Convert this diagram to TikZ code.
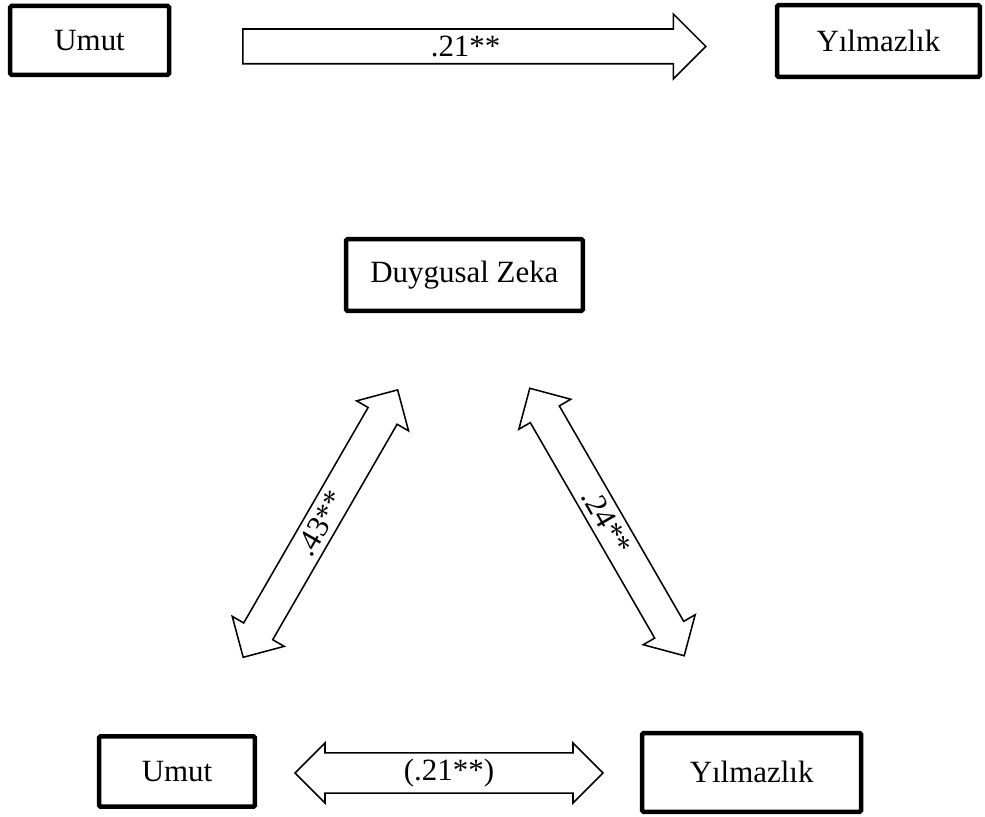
\documentclass[tikz,border=0pt]{standalone}
\usepackage{fontspec}
\setmainfont{Liberation Serif}
\usetikzlibrary{shapes.arrows}

\begin{document}
\begin{tikzpicture}[
    every node/.style={font=\fontsize{22}{26}\selectfont},
    varbox/.style={draw, line width=3.2pt, rounded corners=1pt, minimum height=1.76cm, inner sep=0pt},
    onearrow/.style={single arrow, draw, line width=1.1pt, inner sep=1pt,
      single arrow head extend=0.275cm, minimum width=1.625cm},
    twoarrow/.style={double arrow, draw, line width=1.1pt, inner sep=1pt,
      double arrow head extend=0.25cm, minimum width=1.5cm}]
    % Frame
    \useasboundingbox (0,0) rectangle (24.625,20.4);
    % Direct path
    \node[varbox, minimum width=3.97cm, minimum height=1.72cm] (umutA) at (2.24,19.39) {Umut};
    \node[varbox, minimum width=5.07cm, minimum height=1.79cm] (yilA) at (21.96,19.375) {Yılmazlık};
    \node[onearrow, minimum height=11.575cm, anchor=tail] (okA) at (6.05,19.24) {.21**};

    % Mediator
    \node[varbox, minimum width=5.92cm, minimum height=1.79cm] (zeka) at (11.61,13.525) {Duygusal Zeka};
    \node[varbox, minimum width=3.89cm] (umutB) at (4.425,1.1125) {Umut};
    \node[varbox, minimum width=5.47cm, minimum height=1.97cm] (yilB) at (18.79,1.09) {Yılmazlık};

    \node[twoarrow, minimum height=7.72cm, rotate=60] (okUZ) at (8.01,7.31) {.43**};
    \node[twoarrow, minimum height=7.72cm, rotate=-60] (okZY) at (15.175,7.35) {.24**};
    \node[twoarrow, minimum height=7.7cm, double arrow head extend=0.2cm] (okUY) at (11.225,1.075) {(.21**)};
  \end{tikzpicture}
\end{document}
